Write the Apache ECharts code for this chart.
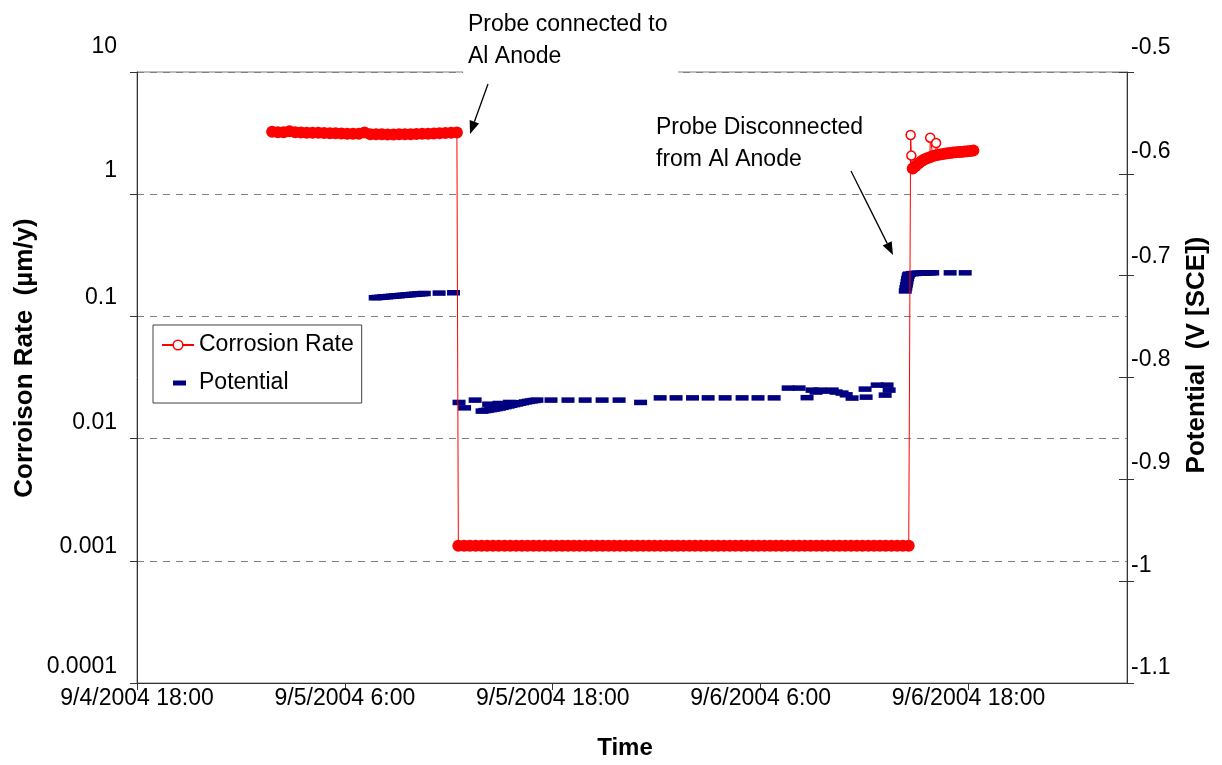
<!DOCTYPE html>
<html><head><meta charset="utf-8">
<script src="https://cdn.jsdelivr.net/npm/echarts@6/dist/echarts.min.js"></script>
<style>html,body{margin:0;padding:0;background:#fff}#chart{width:1222px;height:765px}</style>
</head><body><div id="chart"></div>
<script>
// ---- Axis definitions (x values are hours since 9/4/2004 18:00) ----
const xTickLabels = ['9/4/2004 18:00', '9/5/2004 6:00', '9/5/2004 18:00', '9/6/2004 6:00', '9/6/2004 18:00'];
const xTickStepHours = 12;
const xMaxHours = 57.15;
const leftTickLabels = ['0.0001', '0.001', '0.01', '0.1', '1', '10'];
const rightTickLabels = ['-1.1', '-1', '-0.9', '-0.8', '-0.7', '-0.6', '-0.5'];

// ---- Corrosion rate (µm/y): logged segments (start hour, sampling step in minutes, readings) ----
const crSeg1Start = 7.8, crSeg1StepMin = 20;
const crSeg1 = [3.24, 3.22, 3.22, 3.28, 3.22, 3.2, 3.19, 3.18, 3.18, 3.17, 3.16, 3.15, 3.14, 3.13, 3.13, 3.12, 3.2,
  3.1, 3.09, 3.09, 3.08, 3.08, 3.09, 3.1, 3.1, 3.11, 3.12, 3.13, 3.14, 3.15, 3.17, 3.18, 3.2];
const crSeg2Start = 18.55, crSeg2StepMin = 20;
const crSeg2 = [0.00133, 0.00133, 0.00133, 0.00133, 0.00133, 0.00133, 0.00133, 0.00133, 0.00133, 0.00133,
  0.00133, 0.00133, 0.00133, 0.00133, 0.00133, 0.00133, 0.00133, 0.00133, 0.00133, 0.00133,
  0.00133, 0.00133, 0.00133, 0.00133, 0.00133, 0.00133, 0.00133, 0.00133, 0.00133, 0.00133,
  0.00133, 0.00133, 0.00133, 0.00133, 0.00133, 0.00133, 0.00133, 0.00133, 0.00133, 0.00133,
  0.00133, 0.00133, 0.00133, 0.00133, 0.00133, 0.00133, 0.00133, 0.00133, 0.00133, 0.00133,
  0.00133, 0.00133, 0.00133, 0.00133, 0.00133, 0.00133, 0.00133, 0.00133, 0.00133, 0.00133,
  0.00133, 0.00133, 0.00133, 0.00133, 0.00133, 0.00133, 0.00133, 0.00133, 0.00133, 0.00133,
  0.00133, 0.00133, 0.00133, 0.00133, 0.00133, 0.00133, 0.00133, 0.00133, 0.00133];
const crSeg3Start = 44.78, crSeg3StepMin = 10;
const crSeg3 = [1.62, 1.7, 1.78, 1.86, 1.92, 1.97, 2.01, 2.05, 2.08, 2.1, 2.12, 2.14, 2.16, 2.17, 2.19, 2.2, 2.21,
  2.22, 2.24, 2.25, 2.26, 2.28];
// isolated readings (drawn as open circles)
const crOutlierHours = [44.66, 44.70, 45.79, 46.13];
const crOutlierValues = [3.05, 2.07, 2.9, 2.62];

// ---- Potential (V vs SCE) ----
const potA_Start = 13.75, potA_StepMin = 10;
const potA = [-0.7217, -0.7214, -0.7212, -0.7209, -0.7207, -0.7204, -0.7202, -0.7199, -0.7197, -0.7194, -0.7192,
  -0.7189, -0.7187, -0.7184, -0.7182, -0.7179, -0.7177, -0.7175];
const potB_Start = 19.92, potB_StepMin = 10;
const potB = [-0.833, -0.8325, -0.832, -0.8315, -0.831, -0.8305, -0.83, -0.8293, -0.8286, -0.828, -0.8273, -0.8266,
  -0.826, -0.8253, -0.8247, -0.824, -0.8235, -0.823, -0.8226, -0.8222];
const potC1_Start = 44.35, potC1_StepMin = 2;
const potC1 = [-0.715, -0.712, -0.709, -0.706, -0.703, -0.7005, -0.699];
const potC2_Start = 44.6, potC2_StepMin = 10;
const potC2 = [-0.6985, -0.698, -0.6978, -0.6976, -0.6975, -0.6974, -0.6973, -0.6972, -0.6972];
const potSparseHours = [17.44, 18.27, 18.59, 18.91, 19.52, 20.3, 20.9, 21.5, 23.9, 24.88, 25.87, 26.85, 27.83, 29.07,
  30.2, 31.12, 32.07, 32.97, 33.95, 34.93, 35.85, 36.78, 37.59, 38.22, 38.68, 38.97, 39.2, 39.43, 39.9, 40.13,
  40.36, 40.7, 40.94, 41.28, 42.03, 42.09, 42.73, 43.19, 43.3, 43.42, 46.94, 47.81];
const potSparseValues = [-0.7171, -0.7168, -0.8245, -0.8298, -0.8222, -0.8262, -0.8255, -0.8245, -0.8222, -0.8222,
  -0.8222, -0.8222, -0.8222, -0.8245, -0.82, -0.82, -0.82, -0.82, -0.82, -0.82, -0.82, -0.82, -0.8104, -0.8104,
  -0.8198, -0.8124, -0.8143, -0.8124, -0.8134, -0.8124, -0.8143, -0.8153, -0.817, -0.8202, -0.8114, -0.8193,
  -0.8075, -0.8173, -0.8075, -0.8124, -0.6972, -0.6972];

// ---- build series data ----
function seg(start, stepMin, vals) { return vals.map((v, i) => [start + i * stepMin / 60, v]); }
function pairs(hs, vs) { return hs.map((h, i) => [h, vs[i]]); }
const crOutliers = pairs(crOutlierHours, crOutlierValues);
const outlierKeys = new Set(crOutliers.map(p => p[0] + '|' + p[1]));
const crData = seg(crSeg1Start, crSeg1StepMin, crSeg1)
  .concat(seg(crSeg2Start, crSeg2StepMin, crSeg2))
  .concat(seg(crSeg3Start, crSeg3StepMin, crSeg3))
  .concat(crOutliers)
  .sort((a, b) => a[0] - b[0]);
const potData = seg(potA_Start, potA_StepMin, potA)
  .concat(seg(potB_Start, potB_StepMin, potB))
  .concat(seg(potC1_Start, potC1_StepMin, potC1))
  .concat(seg(potC2_Start, potC2_StepMin, potC2))
  .concat(pairs(potSparseHours, potSparseValues));

const FONT = '"Liberation Sans", Arial, sans-serif';
const FS = 23;
const TFS = 26;
const AXIS_COLOR = '#333';
const POT_ICON = 'path://M0,0L0.01,0L0,0.01Z M11,3.5L24,3.5L24,8.5L11,8.5Z M32,12L31.99,12L32,11.99Z';

// label lift above its tick (px), per tick index
const leftLift = [16, 14, 16, 19, 24, 25];
const rightLift = [15.5, 16, 17, 18, 19.5, 22, 24.5];
function richFor(lifts) {
  const r = {};
  lifts.forEach((d, i) => { r['t' + i] = { lineHeight: 2 * d, fontSize: FS, fontFamily: FONT, color: '#000' }; });
  return r;
}

function arrow(x1, y1, x2, y2) {
  const dx = x2 - x1, dy = y2 - y1, L = Math.hypot(dx, dy);
  const ux = dx / L, uy = dy / L, hl = 13, hw = 5;
  const bx = x2 - ux * hl, by = y2 - uy * hl;
  return [
    { type: 'line', z: 20, shape: { x1: x1, y1: y1, x2: bx, y2: by }, style: { stroke: '#000', lineWidth: 1.3 } },
    { type: 'polygon', z: 20, shape: { points: [[x2, y2], [bx + uy * hw, by - ux * hw], [bx - uy * hw, by + ux * hw]] },
      style: { fill: '#000' } }
  ];
}

const chart = echarts.init(document.getElementById('chart'), null, { renderer: 'canvas' });
chart.setOption({
  animation: false,
  backgroundColor: '#fff',
  textStyle: { fontFamily: FONT },
  grid: {
    left: 137, right: 95, top: 72, bottom: 82,
    show: true, borderColor: '#808080', borderWidth: 1, backgroundColor: 'transparent',
    containLabel: false, outerBoundsMode: 'none'
  },
  legend: {
    orient: 'vertical', left: 153, top: 325,
    itemWidth: 32, itemHeight: 12, itemGap: 8, padding: [5, 8, 5, 8],
    borderColor: '#404040', borderWidth: 1, borderRadius: 0, backgroundColor: '#fff',
    selectedMode: false,
    textStyle: { fontFamily: FONT, fontSize: FS, color: '#000', lineHeight: 30 },
    data: [
      { name: 'Corrosion Rate', itemStyle: { color: '#fff', borderColor: '#ff0000', borderWidth: 1.5 } },
      { name: 'Potential', icon: POT_ICON, itemStyle: { color: '#000080', opacity: 1 } }
    ]
  },
  xAxis: {
    type: 'value', min: 0, max: xMaxHours, interval: xTickStepHours,
    axisLine: { show: true, lineStyle: { color: AXIS_COLOR, width: 1 } },
    axisTick: { show: true, length: 7, lineStyle: { color: AXIS_COLOR } },
    splitLine: { show: false },
    axisLabel: {
      show: true, margin: 4, color: '#000', fontFamily: FONT, fontSize: FS, showMaxLabel: false,
      formatter: v => { const k = v / xTickStepHours; return Math.abs(k - Math.round(k)) < 1e-6 ? (xTickLabels[Math.round(k)] || '') : ''; }
    }
  },
  yAxis: [
    {
      type: 'log', logBase: 10, min: 0.0001, max: 10, splitNumber: 5, position: 'left',
      axisLine: { show: true, lineStyle: { color: AXIS_COLOR, width: 1 } },
      axisTick: { show: true, length: 7, lineStyle: { color: AXIS_COLOR } },
      minorTick: { show: false },
      splitLine: { show: true, lineStyle: { color: '#808080', width: 1, type: [7, 6] } },
      axisLabel: {
        show: true, margin: 20, color: '#000', fontFamily: FONT, fontSize: FS, verticalAlign: 'bottom',
        rich: richFor(leftLift),
        formatter: v => { const i = Math.round(Math.log10(v)) + 4; return leftTickLabels[i] ? '{t' + i + '|' + leftTickLabels[i] + '}' : ''; }
      }
    },
    {
      type: 'value', min: -1.1, max: -0.5, interval: 0.1, position: 'right',
      axisLine: { show: true, lineStyle: { color: AXIS_COLOR, width: 1 } },
      axisTick: { show: true, length: 7, lineStyle: { color: AXIS_COLOR } },
      splitLine: { show: false },
      axisLabel: {
        show: true, margin: 4, color: '#000', fontFamily: FONT, fontSize: FS, verticalAlign: 'bottom',
        rich: richFor(rightLift),
        formatter: v => { const i = Math.round((v + 1.1) * 10); return rightTickLabels[i] ? '{t' + i + '|' + rightTickLabels[i] + '}' : ''; }
      }
    },
    {
      type: 'value', min: -1.1, max: -0.5, interval: 0.1, position: 'right',
      axisLine: { show: false },
      axisTick: { show: true, inside: true, length: 8, lineStyle: { color: AXIS_COLOR } },
      splitLine: { show: false }, axisLabel: { show: false }
    }
  ],
  series: [
    {
      name: 'Potential', type: 'scatter', yAxisIndex: 1, data: potData,
      symbol: 'rect', symbolSize: [13, 5.5],
      itemStyle: { color: '#000080', opacity: 1 }, emphasis: { disabled: true }, z: 3
    },
    {
      name: 'Corrosion Rate', type: 'line', yAxisIndex: 0, data: crData,
      symbol: 'circle', showSymbol: true, showAllSymbol: true,
      symbolSize: (val) => outlierKeys.has(val[0] + '|' + val[1]) ? 0 : 12,
      itemStyle: { color: '#ff0000', opacity: 1 }, lineStyle: { color: '#ff0000', width: 1 },
      emphasis: { disabled: true }, z: 4
    },
    {
      name: 'Corrosion Rate', type: 'scatter', yAxisIndex: 0, data: crOutliers,
      symbol: 'circle', symbolSize: 9,
      itemStyle: { color: '#fff', borderColor: '#ff0000', borderWidth: 1.5, opacity: 1 },
      emphasis: { disabled: true }, z: 5
    }
  ],
  graphic: {
    elements: [
      { type: 'rect', z: 10, shape: { x: 463, y: 4, width: 215, height: 74 }, style: { fill: '#fff' } },
      { type: 'text', z: 11, x: 468, y: 25, style: { text: 'Probe connected to', font: FS + 'px ' + FONT, fill: '#000', verticalAlign: 'middle' } },
      { type: 'text', z: 11, x: 468, y: 57, style: { text: 'Al Anode', font: FS + 'px ' + FONT, fill: '#000', verticalAlign: 'middle' } },
      { type: 'text', z: 11, x: 656, y: 128, style: { text: 'Probe Disconnected', font: FS + 'px ' + FONT, fill: '#000', verticalAlign: 'middle' } },
      { type: 'text', z: 11, x: 656, y: 160, style: { text: 'from Al Anode', font: FS + 'px ' + FONT, fill: '#000', verticalAlign: 'middle' } },
      ...arrow(488, 84, 470, 134),
      ...arrow(851, 171, 893, 255),
      { type: 'text', z: 11, x: 25, y: 358, rotation: Math.PI / 2,
        style: { text: 'Corroison Rate  (µm/y)', font: 'bold ' + TFS + 'px ' + FONT, fill: '#000', align: 'center', verticalAlign: 'middle' } },
      { type: 'text', z: 11, x: 1197, y: 355, rotation: Math.PI / 2,
        style: { text: 'Potential  (V [SCE])', font: 'bold ' + TFS + 'px ' + FONT, fill: '#000', align: 'center', verticalAlign: 'middle' } },
      { type: 'text', z: 11, x: 625, y: 748,
        style: { text: 'Time', font: 'bold 24px ' + FONT, fill: '#000', align: 'center', verticalAlign: 'middle' } }
    ]
  }
});
</script></body></html>
